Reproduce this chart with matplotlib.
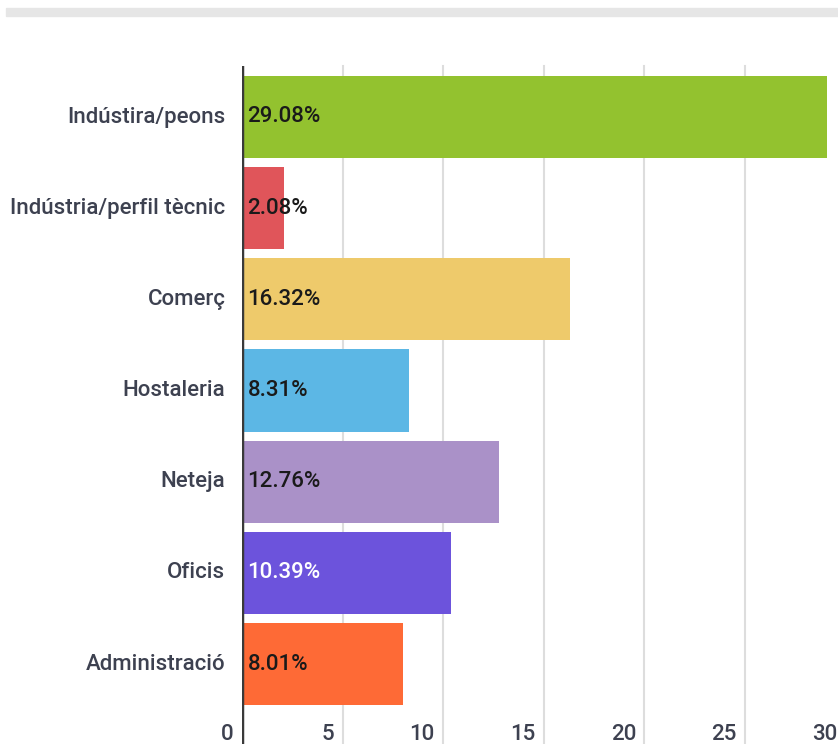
import matplotlib.pyplot as plt
from matplotlib.patches import Rectangle

# Data

categories = [
    "Indústira/peons",
    "Indústria/perfil tècnic",
    "Comerç",
    "Hostaleria",
    "Neteja",
    "Oficis",
    "Administració",
]

values = [29.08, 2.08, 16.32, 8.31, 12.76, 10.39, 8.01]

colors = [
    "#93c22f",
    "#e0555a",
    "#eeca6b",
    "#5cb7e5",
    "#aa91c8",
    "#6c53dc",
    "#fe6a36",
]

label_colors = ["#1a1a1a"] * 5 + ["#ffffff", "#1a1a1a"]

x_ticks = [0, 5, 10, 15, 20, 25, 30]

plt.rcParams["font.family"] = ["Roboto", "DejaVu Sans"]

W, H = 838, 744
fig = plt.figure(figsize=(W / 100, H / 100), dpi=100)

# Axes placement in pixels
left_px, top_px, bottom_px = 242, 66, 744
ax = fig.add_axes([
    left_px / W,
    1 - bottom_px / H,
    1 - left_px / W,
    (bottom_px - top_px) / H
])

px_per_unit = 20.12
ax.set_xlim(0, (W - left_px) / px_per_unit)

step = 91.17
first_center = 117
ax.set_ylim(
    (bottom_px - first_center) / step,
    (top_px - first_center) / step
)

# Bars

positions = list(range(len(categories)))

ax.barh(
    positions,
    values,
    height=0.9,
    color=colors,
    zorder=2
)

# Grid

for t in x_ticks[1:]:
    ax.axvline(t, color="#dddddd", linewidth=1.5, zorder=1, clip_on=False)

ax.axvline(0, color="#3a3a3a", linewidth=2.5, zorder=3)

for s in ax.spines.values():
    s.set_visible(False)

ax.set_xticks([])
ax.set_yticks([])

# Value labels

for i, v in enumerate(values):
    ax.annotate(
        f"{v:.2f}%",
        (0, i),
        xytext=(4, 0),
        textcoords="offset points",
        va="center",
        ha="left",
        fontsize=16,
        fontweight="medium",
        color=label_colors[i],
        zorder=4
    )

# Category labels

for i, c in enumerate(categories):
    ax.annotate(
        c,
        (0, i),
        xytext=(-12, 0),
        textcoords="offset points",
        va="center",
        ha="right",
        fontsize=16,
        fontweight="medium",
        color="#3d4150",
        annotation_clip=False
    )

# X tick labels (right aligned to the gridline)

label_y = (735 - first_center) / step

for t in x_ticks:
    ax.annotate(
        str(t),
        (t, label_y),
        xytext=(-6, 0),
        textcoords="offset points",
        va="center",
        ha="right",
        fontsize=16,
        fontweight="medium",
        color="#3d4150",
        annotation_clip=False
    )

# Top gray bar

fig.patches.append(
    Rectangle(
        (6 / W, 1 - 16 / H),
        1 - 6 / W,
        8 / H,
        transform=fig.transFigure,
        color="#e6e6e6",
        zorder=0
    )
)

fig.savefig("out.png", dpi=100)
